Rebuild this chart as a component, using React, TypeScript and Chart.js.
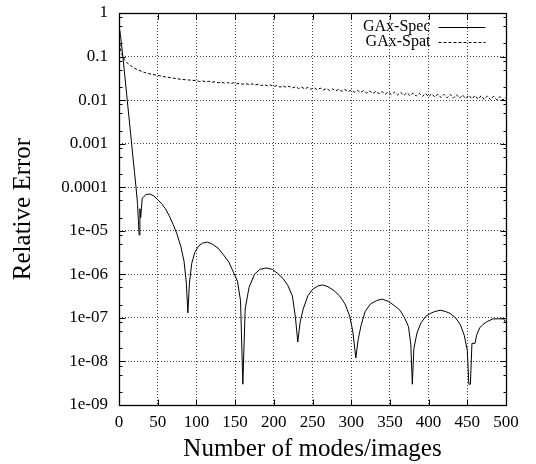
import { useEffect, useRef } from "react";
import { Chart, registerables } from "chart.js";

Chart.register(...registerables);

const FONT = "'Liberation Serif', 'Times New Roman', serif";

const xTickValues = [0, 50, 100, 150, 200, 250, 300, 350, 400, 450, 500];
const yTickValues = [1e-9, 1e-8, 1e-7, 1e-6, 1e-5, 1e-4, 1e-3, 1e-2, 1e-1, 1];
const yTickLabels = ["1e-09", "1e-08", "1e-07", "1e-06", "1e-05", "0.0001", "0.001", "0.01", "0.1", "1"];
const yMinorFactors = [2, 5, 8];

const xTitle = "Number of modes/images";
const yTitle = "Relative Error";
const seriesNames = ["GAx-Spec", "GAx-Spat"];

const specX = [1, 2, 5, 10, 15, 20, 22, 24, 26, 27, 28, 30, 35, 40, 45, 50, 55, 60, 65, 70, 75, 80, 84, 87, 89, 91, 94, 98, 103, 108, 114, 120, 128, 135, 142, 148, 153, 157, 160, 163, 168, 175, 182, 190, 198, 205, 212, 218, 224, 228, 231, 234, 238, 244, 250, 257, 263, 270, 278, 285, 292, 298, 302, 306, 309, 313, 318, 325, 333, 340, 348, 356, 363, 369, 374, 377, 379, 381, 385, 390, 396, 402, 408, 415, 422, 428, 435, 441, 446, 450, 452, 454, 456, 460, 462, 466, 470, 475, 483, 490, 497, 500];
const specY = [0.4, 0.3, 0.1, 0.013, 1.7e-3, 2.2e-4, 1e-4, 4e-5, 8e-6, 3.2e-5, 2e-5, 5.6e-5, 6.8e-5, 7e-5, 6.3e-5, 5.2e-5, 4.2e-5, 3.2e-5, 2.2e-5, 1.4e-5, 8.3e-6, 4.3e-6, 2e-6, 6.3e-7, 1.3e-7, 6.3e-7, 1.8e-6, 3.2e-6, 4.5e-6, 5.2e-6, 5.5e-6, 5e-6, 4e-6, 2.8e-6, 1.9e-6, 1.1e-6, 7e-7, 2.5e-7, 3e-9, 1.6e-7, 5e-7, 1e-6, 1.3e-6, 1.4e-6, 1.3e-6, 1.05e-6, 8e-7, 5.6e-7, 3.2e-7, 1e-7, 2.8e-8, 8e-8, 1.6e-7, 3.2e-7, 4.5e-7, 5.4e-7, 5.7e-7, 5.2e-7, 4.2e-7, 3.2e-7, 2.1e-7, 1.1e-7, 5e-8, 1.2e-8, 3.2e-8, 7e-8, 1.4e-7, 2.1e-7, 2.5e-7, 2.7e-7, 2.4e-7, 1.9e-7, 1.5e-7, 1e-7, 6.3e-8, 2.5e-8, 3e-9, 2e-8, 4.5e-8, 7.6e-8, 1.07e-7, 1.26e-7, 1.4e-7, 1.5e-7, 1.4e-7, 1.26e-7, 1e-7, 7e-8, 4e-8, 1.8e-8, 3e-9, 3e-9, 2.6e-8, 2.6e-8, 4e-8, 5.9e-8, 7e-8, 8.1e-8, 9.5e-8, 9.5e-8, 9.5e-8, 7.6e-8];

const spatX = [1, 2, 3, 5, 7, 10, 15, 20, 25, 30, 35, 40, 50, 60, 70, 80, 90,
  100, 104, 108, 112, 116, 120, 124, 128, 132, 136, 140, 144, 148, 152, 156, 160, 164, 168, 172, 176, 180, 184, 188, 192, 196,
  200, 204, 208, 212, 216, 220, 224, 228, 232, 236, 240, 244, 248, 252, 256, 260, 264, 268, 272, 276, 280, 284, 288, 292, 296,
  300, 304, 308, 312, 316, 320, 324, 328, 332, 336, 340, 344, 348, 352, 356, 360, 364, 368, 372, 376, 380, 384, 388, 392, 396,
  400, 404, 408, 412, 416, 420, 424, 428, 432, 436, 440, 444, 448, 452, 456, 460, 464, 468, 472, 476, 480, 484, 488, 492, 496, 500];
const spatY = [0.2, 0.15, 0.125, 0.1, 0.085, 0.073, 0.062, 0.054, 0.049, 0.045, 0.042, 0.04, 0.037, 0.034, 0.032, 0.030, 0.029,
  0.0280, 0.0268, 0.0276, 0.0262, 0.0270, 0.0257, 0.0264, 0.0250, 0.0258, 0.0246, 0.0253, 0.0240, 0.0249, 0.0236, 0.0244, 0.0231, 0.0240, 0.0227, 0.0236, 0.0222, 0.0231, 0.0216, 0.0226, 0.0211, 0.0222,
  0.0204, 0.0217, 0.0199, 0.0212, 0.0196, 0.0208, 0.0190, 0.0203, 0.0185, 0.0199, 0.0180, 0.0196, 0.0177, 0.0192, 0.0173, 0.0188, 0.0170, 0.0185, 0.0166, 0.0181, 0.0162, 0.0178, 0.0159, 0.0175, 0.0156,
  0.0171, 0.0152, 0.0168, 0.0149, 0.0165, 0.0145, 0.0162, 0.0142, 0.0159, 0.0140, 0.0157, 0.0137, 0.0155, 0.0134, 0.0153, 0.0131, 0.0150, 0.0128, 0.0148, 0.0126, 0.0146, 0.0124, 0.0144, 0.0121, 0.0142,
  0.0119, 0.0140, 0.0117, 0.0138, 0.0115, 0.0136, 0.0113, 0.0135, 0.0111, 0.0133, 0.0110, 0.0131, 0.0108, 0.0130, 0.0107, 0.0128, 0.0105, 0.0126, 0.0104, 0.0125, 0.0102, 0.0123, 0.0101, 0.0121, 0.0100, 0.0118];

const seriesDash = [[], [3, 2]];

const frameTicksLegend = {
  id: "frameTicksLegend",
  afterDatasetsDraw(chart: any) {
    const ctx = chart.ctx;
    const { left, right, top, bottom } = chart.chartArea;
    const L = Math.round(left) + 0.5;
    const R = Math.round(right) + 0.5;
    const T = Math.round(top) + 0.5;
    const B = Math.round(bottom) + 0.5;
    const xs = chart.scales.x;
    const ys = chart.scales.y;
    ctx.save();
    ctx.setLineDash([]);
    ctx.strokeStyle = "#000";
    ctx.lineWidth = 1;
    ctx.beginPath();
    xTickValues.forEach((v) => {
      const px = Math.round(xs.getPixelForValue(v)) + 0.5;
      ctx.moveTo(px, B); ctx.lineTo(px, B - 6);
      ctx.moveTo(px, T); ctx.lineTo(px, T + 6);
    });
    yTickValues.forEach((v, i) => {
      const py = Math.round(ys.getPixelForValue(v)) + 0.5;
      ctx.moveTo(L, py); ctx.lineTo(L + 6, py);
      ctx.moveTo(R, py); ctx.lineTo(R - 6, py);
      if (i < yTickValues.length - 1) {
        yMinorFactors.forEach((f) => {
          const pm = Math.round(ys.getPixelForValue(v * f)) + 0.5;
          ctx.moveTo(L, pm); ctx.lineTo(L + 3, pm);
          ctx.moveTo(R, pm); ctx.lineTo(R - 3, pm);
        });
      }
    });
    ctx.stroke();
    ctx.lineWidth = 1.3;
    ctx.strokeRect(L, T, R - L, B - T);

    // legend
    ctx.font = "16px " + FONT;
    ctx.fillStyle = "#000";
    ctx.textAlign = "right";
    ctx.textBaseline = "middle";
    ctx.lineWidth = 1;
    seriesNames.forEach((name, i) => {
      const y = Math.round(top) + 14 + i * 15;
      ctx.fillText(name, R - 76, y);
      ctx.setLineDash(seriesDash[i]);
      ctx.beginPath();
      ctx.moveTo(R - 68, y + 0.5);
      ctx.lineTo(R - 21, y + 0.5);
      ctx.stroke();
    });
    ctx.restore();
  },
};

export default function App() {
  const ref = useRef<HTMLCanvasElement | null>(null);
  useEffect(() => {
    if (!ref.current) return;
    const chart = new Chart(ref.current, {
      type: "line",
      data: {
        datasets: [
          {
            label: seriesNames[0],
            data: specX.map((x, i) => ({ x, y: specY[i] })),
            borderColor: "#000",
            borderWidth: 1,
            pointRadius: 0,
            tension: 0,
            fill: false,
          },
          {
            label: seriesNames[1],
            data: spatX.map((x, i) => ({ x, y: spatY[i] })),
            borderColor: "#000",
            borderWidth: 1,
            borderDash: seriesDash[1],
            pointRadius: 0,
            tension: 0,
            fill: false,
          },
        ],
      },
      options: {
        animation: false,
        responsive: false,
        maintainAspectRatio: false,
        layout: { padding: { top: 13, right: 30, left: 0, bottom: 0 } },
        plugins: { legend: { display: false }, tooltip: { enabled: false } },
        scales: {
          x: {
            type: "linear",
            min: 0,
            max: 500,
            afterBuildTicks: (scale: any) => {
              scale.ticks = xTickValues.map((v) => ({ value: v }));
            },
            afterFit: (scale: any) => {
              scale.height = 59;
              scale.paddingLeft = 0;
              scale.paddingRight = 0;
            },
            ticks: {
              autoSkip: false,
              maxRotation: 0,
              padding: 7,
              color: "#000",
              font: { family: FONT, size: 17 },
            },
            grid: {
              color: "rgba(0,0,0,0.75)",
              lineWidth: 1,
              drawTicks: false,
            },
            border: { display: false, dash: [1, 2] },
            title: {
              display: true,
              text: xTitle,
              color: "#000",
              font: { family: FONT, size: 25 },
              padding: { top: 0, bottom: 0 },
            },
          },
          y: {
            type: "logarithmic",
            min: 1e-9,
            max: 1,
            afterBuildTicks: (scale: any) => {
              scale.ticks = yTickValues.map((v) => ({ value: v, major: true }));
            },
            afterFit: (scale: any) => {
              scale.width = 119;
              scale.paddingTop = 0;
              scale.paddingBottom = 0;
            },
            ticks: {
              autoSkip: false,
              padding: 11,
              color: "#000",
              font: { family: FONT, size: 17 },
              callback: (value: any) => {
                const idx = yTickValues.findIndex((v) => Math.abs(Math.log10(v) - Math.log10(Number(value))) < 1e-6);
                return idx >= 0 ? yTickLabels[idx] : "";
              },
            },
            grid: {
              color: "rgba(0,0,0,0.75)",
              lineWidth: 1,
              drawTicks: false,
            },
            border: { display: false, dash: [1, 2] },
            title: {
              display: true,
              text: yTitle,
              color: "#000",
              font: { family: FONT, size: 25 },
              padding: { top: 8, bottom: 0 },
            },
          },
        },
      },
      plugins: [frameTicksLegend],
    });
    return () => chart.destroy();
  }, []);
  return (
    <div style={{ position: "absolute", left: 0, top: 0, width: 536, height: 464, background: "#fff" }}>
      <canvas ref={ref} width={536} height={464} style={{ width: 536, height: 464, display: "block" }} />
    </div>
  );
}
